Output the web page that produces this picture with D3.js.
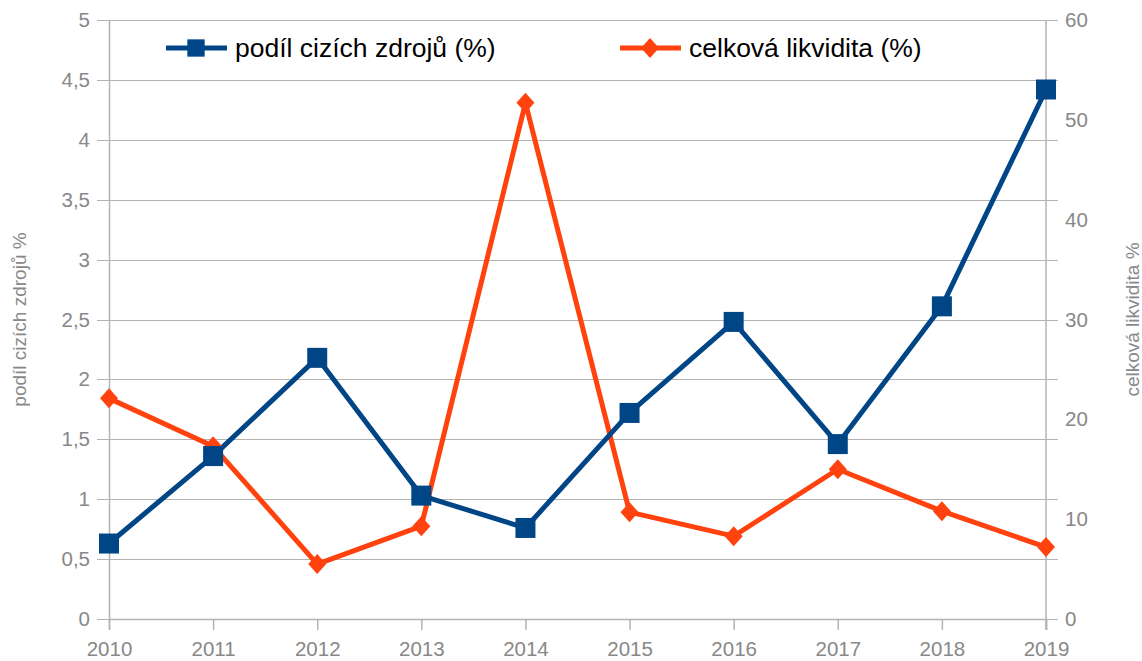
<!DOCTYPE html>
<html>
<head>
<meta charset="utf-8">
<script src="https://cdn.jsdelivr.net/npm/d3@7"></script>
<style>
  body { margin: 0; background: #fff; }
  text { font-family: "Liberation Sans", Arial, sans-serif; }
  .tick text { fill: #888; font-size: 20.5px; }
  .grid line { stroke: #b3b3b3; stroke-width: 1; }
</style>
</head>
<body>
<svg id="chart" width="1142" height="661"></svg>
<script>
// data
var years = ["2010","2011","2012","2013","2014","2015","2016","2017","2018","2019"];
var cizeZdroje = [0.63, 1.36, 2.18, 1.03, 0.76, 1.72, 2.48, 1.46, 2.61, 4.42];
var likvidita = [22.1, 17.3, 5.5, 9.3, 51.7, 10.7, 8.3, 15.0, 10.8, 7.2];
var leftTicks = [0, 0.5, 1, 1.5, 2, 2.5, 3, 3.5, 4, 4.5, 5];
var rightTicks = [0, 10, 20, 30, 40, 50, 60];

var blue = "#004586", orange = "#ff420e";
var svg = d3.select("#chart");
var margin = {left: 109, right: 96, top: 20, bottom: 42};
var width = 1142 - margin.left - margin.right;
var height = 661 - margin.top - margin.bottom;

var g = svg.append("g")
  .attr("transform", "translate(" + margin.left + "," + margin.top + ")");

var x = d3.scalePoint().domain(years).range([0, width]);
var yL = d3.scaleLinear().domain([0, 5]).range([height, 0]);
var yR = d3.scaleLinear().domain([0, 60]).range([height, 0]);

var fmt = function(d) { return String(d).replace(".", ","); };

//-- gridlines
g.append("g").attr("class", "grid")
  .selectAll("line").data(leftTicks).enter().append("line")
  .attr("x1", -12).attr("x2", width + 12)
  .attr("y1", function(d) { return Math.round(yL(d)) + 0.5; })
  .attr("y2", function(d) { return Math.round(yL(d)) + 0.5; });

//-- axes
var axisColor = "#b3b3b3";
var leftAxis = g.append("g")
  .call(d3.axisLeft(yL).tickValues(leftTicks).tickFormat(fmt).tickSize(0).tickPadding(19));
var rightAxis = g.append("g")
  .attr("transform", "translate(" + width + ",0)")
  .call(d3.axisRight(yR).tickValues(rightTicks).tickSize(0).tickPadding(19));
var bottomAxis = g.append("g")
  .attr("transform", "translate(0," + height + ")")
  .call(d3.axisBottom(x).tickSize(11).tickPadding(8));

[leftAxis, rightAxis, bottomAxis].forEach(function(a) {
  a.select(".domain").attr("stroke", axisColor).attr("stroke-width", 1.5);
  a.selectAll(".tick line").attr("stroke", axisColor).attr("stroke-width", 1.5);
});
bottomAxis.selectAll(".tick text").attr("dy", "0.9em");
leftAxis.select(".domain").remove();
rightAxis.select(".domain").remove();
g.append("line").attr("x1", 0.5).attr("x2", 0.5).attr("y1", 0).attr("y2", height)
  .attr("stroke", axisColor).attr("stroke-width", 1.5);
g.append("line").attr("x1", width).attr("x2", width).attr("y1", 0).attr("y2", height + 11)
  .attr("stroke", axisColor).attr("stroke-width", 1.5);

//-- axis titles
svg.append("text")
  .attr("transform", "translate(26," + (margin.top + height / 2) + ") rotate(-90)")
  .attr("text-anchor", "middle").attr("fill", "#888").style("font-size", "19px")
  .text("podíl cizích zdrojů %");
svg.append("text")
  .attr("transform", "translate(1139," + (margin.top + height / 2) + ") rotate(-90)")
  .attr("text-anchor", "middle").attr("fill", "#888").style("font-size", "19px")
  .text("celková likvidita %");

//-- lines
var lineL = d3.line().x(function(d, i) { return x(years[i]); }).y(function(d) { return yL(d); });
var lineR = d3.line().x(function(d, i) { return x(years[i]); }).y(function(d) { return yR(d); });

g.append("path").datum(likvidita).attr("d", lineR)
  .attr("fill", "none").attr("stroke", orange).attr("stroke-width", 5).attr("stroke-linejoin", "round");
g.append("path").datum(cizeZdroje).attr("d", lineL)
  .attr("fill", "none").attr("stroke", blue).attr("stroke-width", 5).attr("stroke-linejoin", "round");

var diamond = function() { return "M0,-10L9,0L0,10L-9,0Z"; };
var square = d3.symbol().type(d3.symbolSquare).size(400);

g.append("g").selectAll("path").data(likvidita).enter().append("path")
  .attr("d", diamond).attr("fill", orange)
  .attr("transform", function(d, i) { return "translate(" + x(years[i]) + "," + yR(d) + ")"; });
g.append("g").selectAll("path").data(cizeZdroje).enter().append("path")
  .attr("d", square).attr("fill", blue)
  .attr("transform", function(d, i) { return "translate(" + x(years[i]) + "," + yL(d) + ")"; });

//-- legend
var legend = [
  {name: "podíl cizích zdrojů (%)", color: blue, sym: d3.symbol().type(d3.symbolSquare).size(300), x: 166},
  {name: "celková likvidita (%)", color: orange, sym: diamond, x: 620}
];
var lg = svg.append("g").selectAll("g").data(legend).enter().append("g")
  .attr("transform", function(d) { return "translate(" + d.x + ",48)"; });
lg.append("line").attr("x1", 0).attr("x2", 61).attr("y1", 0).attr("y2", 0)
  .attr("stroke", function(d) { return d.color; }).attr("stroke-width", 5);
lg.append("path").attr("d", function(d) { return d.sym(); })
  .attr("fill", function(d) { return d.color; })
  .attr("transform", "translate(30,0)");
lg.append("text").attr("x", 69).attr("y", 0).attr("dy", "0.35em")
  .style("font-size", "26.5px").attr("fill", "#000")
  .text(function(d) { return d.name; });
</script>
</body>
</html>
